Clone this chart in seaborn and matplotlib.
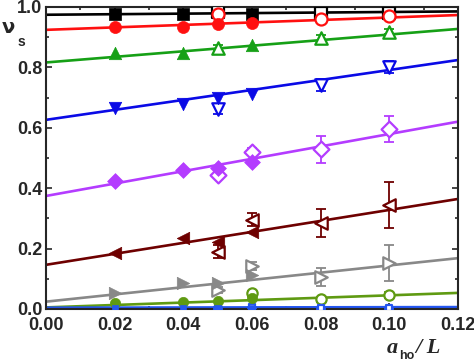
import numpy as np
import pandas as pd
import matplotlib
matplotlib.use("Agg")
import matplotlib.pyplot as plt
import seaborn as sns
from matplotlib.ticker import MultipleLocator

# ---- data ----
x_filled = [0.02, 0.04, 0.05, 0.06]
x_open = [0.05, 0.06, 0.08, 0.10]
x_fit = [0.0, 0.12]

series_names = ["black", "red", "green", "blue", "violet", "darkred", "gray", "olive", "royal"]

filled_black = [0.977, 0.977, np.nan, 0.977]
filled_red = [0.933, 0.933, 0.944, 0.946]
filled_green = [0.847, 0.847, np.nan, 0.874]
filled_blue = [0.665, 0.680, 0.697, 0.712]
filled_violet = [0.424, 0.460, 0.467, 0.488]
filled_darkred = [0.185, 0.235, 0.223, 0.256]
filled_gray = [0.052, 0.085, 0.087, 0.113]
filled_olive = [0.020, 0.024, 0.025, 0.036]
filled_royal = [0.003, 0.003, 0.003, 0.003]

open_black = [0.982, np.nan, 0.981, 0.981]
open_red = [0.978, np.nan, 0.959, 0.971]
open_green = [0.863, np.nan, 0.896, 0.918]
open_blue = [0.662, np.nan, 0.742, 0.802]
open_violet = [0.444, 0.521, 0.529, 0.595]
open_darkred = [0.190, 0.295, 0.284, 0.344]
open_gray = [0.063, 0.142, 0.107, 0.151]
open_olive = [np.nan, 0.052, 0.032, 0.046]
open_royal = [0.003, 0.005, 0.003, 0.003]

err_black = [0.006, 0.0, 0.006, 0.006]
err_red = [0.006, 0.0, 0.007, 0.007]
err_green = [0.010, 0.0, 0.010, 0.008]
err_blue = [0.018, 0.0, 0.020, 0.020]
err_violet = [0.010, 0.012, 0.045, 0.043]
err_darkred = [0.020, 0.022, 0.046, 0.075]
err_gray = [0.010, 0.012, 0.030, 0.060]
err_olive = [0.0, 0.008, 0.008, 0.010]
err_royal = [0.002, 0.002, 0.002, 0.002]

fit_black = [0.974, 0.985]
fit_red = [0.924, 0.973]
fit_green = [0.816, 0.927]
fit_blue = [0.626, 0.824]
fit_violet = [0.374, 0.620]
fit_darkred = [0.146, 0.364]
fit_gray = [0.024, 0.168]
fit_olive = [0.005, 0.053]
fit_royal = [0.004, 0.006]

x_ticks = [0.00, 0.02, 0.04, 0.06, 0.08, 0.10, 0.12]
y_ticks = [0.0, 0.2, 0.4, 0.6, 0.8, 1.0]

# ---- styles ----
colors = {"black": "#000000", "red": "#ff1010", "green": "#16a016", "blue": "#0a0ae6",
          "violet": "#b43cff", "darkred": "#6e0000", "gray": "#888888",
          "olive": "#5f9a12", "royal": "#2456f0"}
markers = {"black": "s", "red": "o", "green": "^", "blue": "v", "violet": "D",
           "darkred": "<", "gray": ">", "olive": "o", "royal": "s"}
msize = {"black": 70, "red": 75, "green": 80, "blue": 80, "violet": 65,
         "darkred": 80, "gray": 80, "olive": 55, "royal": 25}

filled = dict(zip(series_names, [filled_black, filled_red, filled_green, filled_blue, filled_violet,
                                 filled_darkred, filled_gray, filled_olive, filled_royal]))
opened = dict(zip(series_names, [open_black, open_red, open_green, open_blue, open_violet,
                                 open_darkred, open_gray, open_olive, open_royal]))
errs = dict(zip(series_names, [err_black, err_red, err_green, err_blue, err_violet,
                               err_darkred, err_gray, err_olive, err_royal]))
fits = dict(zip(series_names, [fit_black, fit_red, fit_green, fit_blue, fit_violet,
                               fit_darkred, fit_gray, fit_olive, fit_royal]))

sns.set_style("ticks")
plt.rcParams["font.family"] = ["Liberation Sans", "DejaVu Sans"]

fig = plt.figure(figsize=(4.74, 3.63), dpi=100)
ax = fig.add_axes([0.097, 0.149, 0.869, 0.832])

for name in series_names:
    c = colors[name]
    df_fit = pd.DataFrame({"x": x_fit, "y": fits[name]})
    sns.lineplot(data=df_fit, x="x", y="y", color=c, lw=1.9, ax=ax, zorder=2)
    df_o = pd.DataFrame({"x": x_open, "y": opened[name], "e": errs[name]}).dropna()
    ax.errorbar(df_o["x"], df_o["y"], yerr=df_o["e"], fmt="none", ecolor=c,
                elinewidth=1.3, capsize=3.5, capthick=1.3, zorder=3)
    sns.scatterplot(data=df_o, x="x", y="y", marker=markers[name], s=msize[name],
                    facecolor="white", edgecolor=c, linewidth=1.6, ax=ax, zorder=4)
    df_f = pd.DataFrame({"x": x_filled, "y": filled[name]}).dropna()
    sns.scatterplot(data=df_f, x="x", y="y", marker=markers[name], s=msize[name],
                    color=c, edgecolor=c, linewidth=0.5, ax=ax, zorder=5)

ax.set_xlim(0, 0.12)
ax.set_ylim(0, 1.0)
ax.set_xticks(x_ticks)
ax.set_yticks(y_ticks)
ax.set_xticklabels([f"{v:.2f}" for v in x_ticks], fontweight="bold", fontsize=13)
ax.set_yticklabels([f"{v:.1f}" for v in y_ticks], fontweight="bold", fontsize=13)
ax.xaxis.set_minor_locator(MultipleLocator(0.01))
ax.yaxis.set_minor_locator(MultipleLocator(0.1))
ax.tick_params(which="both", direction="in", top=True, right=True, width=1.2)
ax.tick_params(which="major", length=4.5)
ax.tick_params(axis="x", which="major", pad=6)
ax.tick_params(axis="y", which="major", pad=2.5)
ax.tick_params(which="minor", length=2.5)
ax.set_xlabel("")
ax.set_ylabel("")
for sp in ax.spines.values():
    sp.set_linewidth(1.5)
    sp.set_visible(True)

# y label: nu_s
fig.text(0.004, 0.925, "ν", fontsize=14, fontweight="bold", ha="left", va="center",
         family=["DejaVu Sans"])
fig.text(0.036, 0.885, "s", fontsize=10, fontweight="bold", ha="left", va="center")

# x label: a_ho / L
fig.text(0.816, 0.042, "a", fontsize=16, fontweight="bold", fontstyle="italic",
         family=["Liberation Serif"], ha="left", va="center")
fig.text(0.843, 0.004, "ho", fontsize=9, fontweight="bold", ha="left", va="bottom")
fig.text(0.876, 0.042, "/ L", fontsize=16, fontweight="bold", fontstyle="italic",
         family=["Liberation Serif"], ha="left", va="center")

fig.savefig("out.png", dpi=100)
